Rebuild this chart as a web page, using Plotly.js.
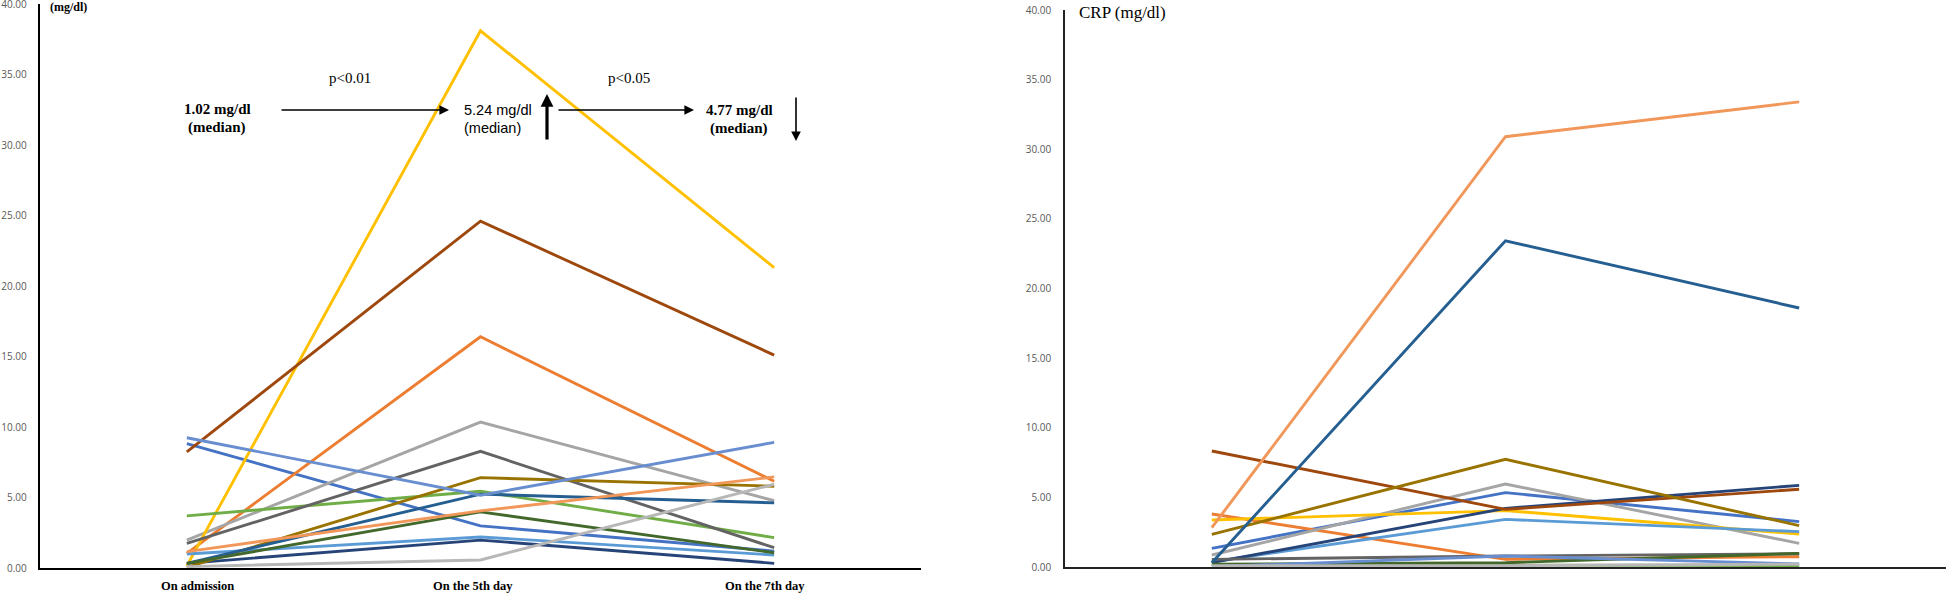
<!DOCTYPE html>
<html>
<head>
<meta charset="utf-8">
<script src="https://cdn.plot.ly/plotly-3.0.1.min.js"></script>
<style>html,body{margin:0;padding:0;background:#fff;}#chart{width:1946px;height:593px;}</style>
</head>
<body>
<div id="chart"></div>
<script>
// ---- data ----
var categories = ['On admission', 'On the 5th day', 'On the 7th day'];

// left panel (median values annotated)
var leftBlue        = [8.82, 2.99, 1.20];
var leftOrange      = [1.04, 16.40, 6.15];
var leftGray        = [1.98, 10.35, 4.77];
var leftYellow      = [0.15, 38.10, 21.30];
var leftLightBlue   = [0.99, 2.20, 0.92];
var leftGreen       = [3.70, 5.44, 2.15];
var leftNavy        = [0.33, 1.98, 0.33];
var leftBrown       = [8.23, 24.60, 15.10];
var leftDarkGray    = [1.74, 8.27, 1.44];
var leftGold        = [0.05, 6.41, 5.80];
var leftDarkBlue    = [0.33, 5.24, 4.62];
var leftDarkGreen   = [0.33, 3.98, 1.08];
var leftCornflower  = [9.24, 5.16, 8.91];
var leftLightOrange = [1.16, 4.05, 6.46];
var leftLightGray   = [0.10, 0.57, 5.94];

// right panel: CRP (mg/dl)
var crpBlue        = [1.34, 5.34, 3.26];
var crpOrange      = [3.81, 0.55, 0.74];
var crpGray        = [0.86, 5.96, 1.70];
var crpYellow      = [3.38, 4.05, 2.37];
var crpLightBlue   = [0.38, 3.42, 2.54];
var crpGreen       = [0.12, 0.14, 0.10];
var crpNavy        = [0.31, 4.21, 5.86];
var crpBrown       = [8.33, 4.14, 5.58];
var crpDarkGray    = [0.55, 0.79, 0.95];
var crpGold        = [2.35, 7.73, 2.97];
var crpDarkBlue    = [0.31, 23.43, 18.60];
var crpDarkGreen   = [0.20, 0.31, 0.98];
var crpCornflower  = [0.02, 0.79, 0.22];
var crpLightOrange = [2.83, 30.90, 33.40];
var crpLightGray   = [0.10, 0.10, 0.20];

var yTickVals = [0, 5, 10, 15, 20, 25, 30, 35, 40];

// ---- styles ----
var palette = ['#4472C4', '#ED7D31', '#A5A5A5', '#FFC000', '#5B9BD5', '#70AD47', '#264478',
               '#9E480E', '#636363', '#997300', '#255E91', '#43682B', '#698ED0', '#F1975A', '#B7B7B7'];
var labelShift = [11, -8, -9];

var leftSeries = [leftBlue, leftOrange, leftGray, leftYellow, leftLightBlue, leftGreen, leftNavy,
                  leftBrown, leftDarkGray, leftGold, leftDarkBlue, leftDarkGreen, leftCornflower,
                  leftLightOrange, leftLightGray];
var rightSeries = [crpBlue, crpOrange, crpGray, crpYellow, crpLightBlue, crpGreen, crpNavy,
                   crpBrown, crpDarkGray, crpGold, crpDarkBlue, crpDarkGreen, crpCornflower,
                   crpLightOrange, crpLightGray];

var traces = [];
leftSeries.forEach(function (vals, i) {
  traces.push({x: categories, y: vals, type: 'scatter', mode: 'lines', xaxis: 'x', yaxis: 'y',
    line: {color: palette[i], width: 2.9}, showlegend: false, hoverinfo: 'skip', cliponaxis: false});
});
rightSeries.forEach(function (vals, i) {
  traces.push({x: categories, y: vals, type: 'scatter', mode: 'lines', xaxis: 'x2', yaxis: 'y2',
    line: {color: palette[i], width: 2.9}, showlegend: false, hoverinfo: 'skip', cliponaxis: false});
});

var W = 1946, H = 593;
function px(x) { return x / W; }
function py(y) { return 1 - y / H; }

var tickFont = {family: 'Open Sans, sans-serif', size: 10, color: '#595959'};
var serif = 'Liberation Serif, Times New Roman, serif';
var sans = 'Liberation Sans, Arial, sans-serif';

function ann(text, x, y, size, family, xanchor) {
  return {text: text, x: px(x), y: py(y), xref: 'paper', yref: 'paper', showarrow: false,
    xanchor: xanchor || 'center', yanchor: 'middle', font: {family: family, size: size, color: '#000'}};
}
function arrow(x1, y1, x2, y2, w, head) {
  return {text: '', x: px(x2), y: py(y2), xref: 'paper', yref: 'paper', showarrow: true,
    ax: x1 - x2, ay: y1 - y2, axref: 'pixel', ayref: 'pixel',
    arrowhead: 2, arrowsize: head, arrowwidth: w, arrowcolor: '#000', standoff: 0, startstandoff: 0};
}

var annotations = [
  ann('<b>(mg/dl)</b>', 48, 7, 12, serif, 'left'),
  ann('CRP (mg/dl)', 1077, 13, 17, serif, 'left'),
  ann('p<0.01', 350, 78, 15, serif),
  ann('p<0.05', 629, 78, 15, serif),
  ann('<b>1.02 mg/dl</b>', 217, 109, 15, serif),
  ann('<b>(median)</b>', 217, 127, 15, serif),
  ann('5.24 mg/dl', 462, 110, 14.5, sans, 'left'),
  ann('(median)', 462, 128, 14.5, sans, 'left'),
  ann('<b>4.77 mg/dl</b>', 739, 110, 15, serif),
  ann('<b>(median)</b>', 739, 128, 15, serif),
  arrow(280, 110, 449, 110, 1.6, 1.2),
  arrow(547, 141, 547, 94, 3.2, 0.8),
  arrow(557, 110, 694, 110, 1.6, 1.2),
  arrow(796, 96, 796, 141, 1.6, 1.2)
];
categories.forEach(function (c, i) {
  annotations.push({text: '<b>' + c + '</b>', x: c, xref: 'x', y: py(586), yref: 'paper',
    xshift: labelShift[i], showarrow: false, xanchor: 'center', yanchor: 'middle',
    font: {family: serif, size: 12.5, color: '#000'}});
});

var layout = {
  width: W, height: H,
  margin: {l: 0, r: 0, t: 0, b: 0, pad: 0},
  paper_bgcolor: '#fff', plot_bgcolor: '#fff',
  showlegend: false,
  xaxis: {domain: [px(40), px(921)], anchor: 'y', type: 'category', range: [-0.5, 2.5],
    showline: true, linecolor: '#000', linewidth: 2.2, showgrid: false, zeroline: false,
    showticklabels: false, ticks: '', fixedrange: true},
  yaxis: {domain: [py(568), py(4)], anchor: 'x', range: [0, 40], tickvals: yTickVals,
    tickformat: '.2f', showline: true, linecolor: '#000', linewidth: 2.2, showgrid: false, zeroline: false,
    ticks: 'outside', ticklen: 9, tickcolor: 'rgba(0,0,0,0)', tickfont: tickFont,
    ticklabeloverflow: 'allow', fixedrange: true},
  xaxis2: {domain: [px(1065), 1], anchor: 'y2', type: 'category', range: [-0.5, 2.5],
    showline: true, linecolor: '#222', linewidth: 1.8, showgrid: false, zeroline: false,
    showticklabels: false, ticks: '', fixedrange: true},
  yaxis2: {domain: [py(567), py(10)], anchor: 'x2', range: [0, 40], tickvals: yTickVals,
    tickformat: '.2f', showline: true, linecolor: '#222', linewidth: 1.8, showgrid: false, zeroline: false,
    ticks: 'outside', ticklen: 10, tickcolor: 'rgba(0,0,0,0)', tickfont: tickFont,
    ticklabeloverflow: 'allow', fixedrange: true},
  annotations: annotations
};

Plotly.newPlot('chart', traces, layout, {staticPlot: true, displayModeBar: false});
</script>
</body>
</html>
